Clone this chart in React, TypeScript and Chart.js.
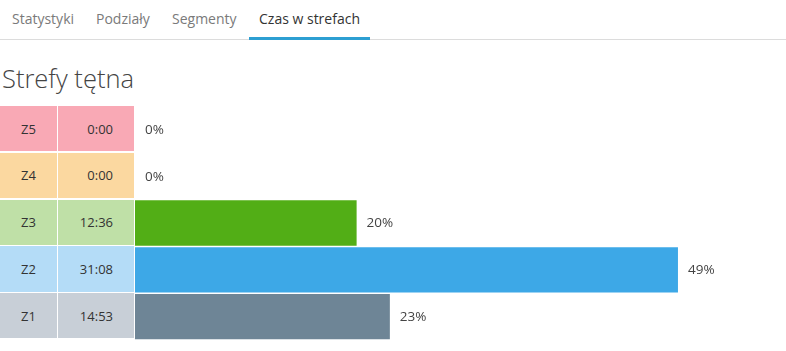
import React, { useEffect, useRef } from "react";
import { Chart, registerables } from "chart.js";

Chart.register(...registerables);

const tabs = ["Statystyki", "Podziały", "Segmenty", "Czas w strefach"];
const tabLeft = [12, 96, 172, 259];
const activeTab = 3;

const title = "Strefy tętna";

const zones = ["Z5", "Z4", "Z3", "Z2", "Z1"];
const times = ["0:00", "0:00", "12:36", "31:08", "14:53"];
const percents = [0, 0, 20, 49, 23];

const cellColors = ["#f9a9b5", "#fbd8a0", "#bfe0a7", "#b4dcf7", "#c8cfd7"];
const barColors = ["#e84a5f", "#f5a623", "#52ae16", "#3da8e7", "#6e8596"];

const FONT = "'Open Sans', 'Noto Sans', sans-serif";
const ROW_TOP = 106;
const ROW_H = 46.8;
const CHART_LEFT = 135;
const CHART_W = 651;
const X_MAX = 58.75;

const labelPlugin = {
  id: "pctLabels",
  afterDatasetsDraw(chart: any) {
    const ctx = chart.ctx;
    const meta = chart.getDatasetMeta(0);
    ctx.save();
    ctx.font = `13.5px ${FONT}`;
    ctx.fillStyle = "#444444";
    ctx.textBaseline = "middle";
    ctx.textAlign = "left";
    meta.data.forEach((bar: any, i: number) => {
      ctx.fillText(`${percents[i]}%`, bar.x + 10, bar.y + 0.5);
    });
    ctx.restore();
  },
};

export default function App() {
  const ref = useRef<HTMLCanvasElement>(null);

  useEffect(() => {
    document.body.style.margin = "0";
    const chart = new Chart(ref.current!, {
      type: "bar",
      data: {
        labels: zones,
        datasets: [
          {
            data: percents,
            backgroundColor: barColors,
            borderWidth: 0,
            categoryPercentage: 1,
            barPercentage: 0.968,
          },
        ],
      },
      options: {
        indexAxis: "y",
        responsive: false,
        animation: false,
        layout: { padding: 0 },
        plugins: { legend: { display: false }, tooltip: { enabled: false } },
        scales: {
          x: { display: false, min: 0, max: X_MAX, grid: { display: false } },
          y: { display: false, grid: { display: false } },
        },
      },
      plugins: [labelPlugin],
    });
    return () => chart.destroy();
  }, []);

  return (
    <div
      style={{
        position: "absolute",
        left: 0,
        top: 0,
        width: 786,
        height: 351,
        background: "#fff",
        fontFamily: FONT,
        overflow: "hidden",
      }}
    >
      {/* tabs */}
      <div
        style={{
          position: "absolute",
          left: 0,
          top: 39,
          width: 786,
          height: 1,
          background: "#dcdcdc",
        }}
      />
      {tabs.map((t, i) => (
        <div
          key={t}
          style={{
            position: "absolute",
            left: tabLeft[i],
            top: 9,
            fontSize: 14,
            lineHeight: "20px",
            color: i === activeTab ? "#333333" : "#7a7a7a",
            whiteSpace: "nowrap",
          }}
        >
          {t}
        </div>
      ))}
      <div
        style={{
          position: "absolute",
          left: 249,
          top: 37,
          width: 121,
          height: 3,
          background: "#2d9fd2",
        }}
      />
      {/* title */}
      <div
        style={{
          position: "absolute",
          left: 2,
          top: 60,
          fontSize: 25.5,
          fontWeight: 300,
          lineHeight: "36px",
          color: "#444444",
          whiteSpace: "nowrap",
        }}
      >
        {title}
      </div>
      {/* table cells */}
      {zones.map((z, i) => {
        const top = ROW_TOP + i * ROW_H;
        return (
          <React.Fragment key={z}>
            <div
              style={{
                position: "absolute",
                left: 0,
                top: top,
                width: 57,
                height: ROW_H - 1.5,
                background: cellColors[i],
                color: "#333",
                fontSize: 13,
                display: "flex",
                alignItems: "center",
                justifyContent: "center",
              }}
            >
              {z}
            </div>
            <div
              style={{
                position: "absolute",
                left: 58,
                top: top,
                width: 76,
                height: ROW_H - 1.5,
                background: cellColors[i],
                color: "#333",
                fontSize: 13,
                display: "flex",
                alignItems: "center",
                justifyContent: "flex-end",
                paddingRight: 21,
                boxSizing: "border-box",
              }}
            >
              {times[i]}
            </div>
          </React.Fragment>
        );
      })}
      <div
        style={{
          position: "absolute",
          left: CHART_LEFT,
          top: ROW_TOP,
          width: CHART_W,
          height: ROW_H * 5,
        }}
      >
        <canvas ref={ref} width={CHART_W} height={Math.round(ROW_H * 5)} />
      </div>
    </div>
  );
}
